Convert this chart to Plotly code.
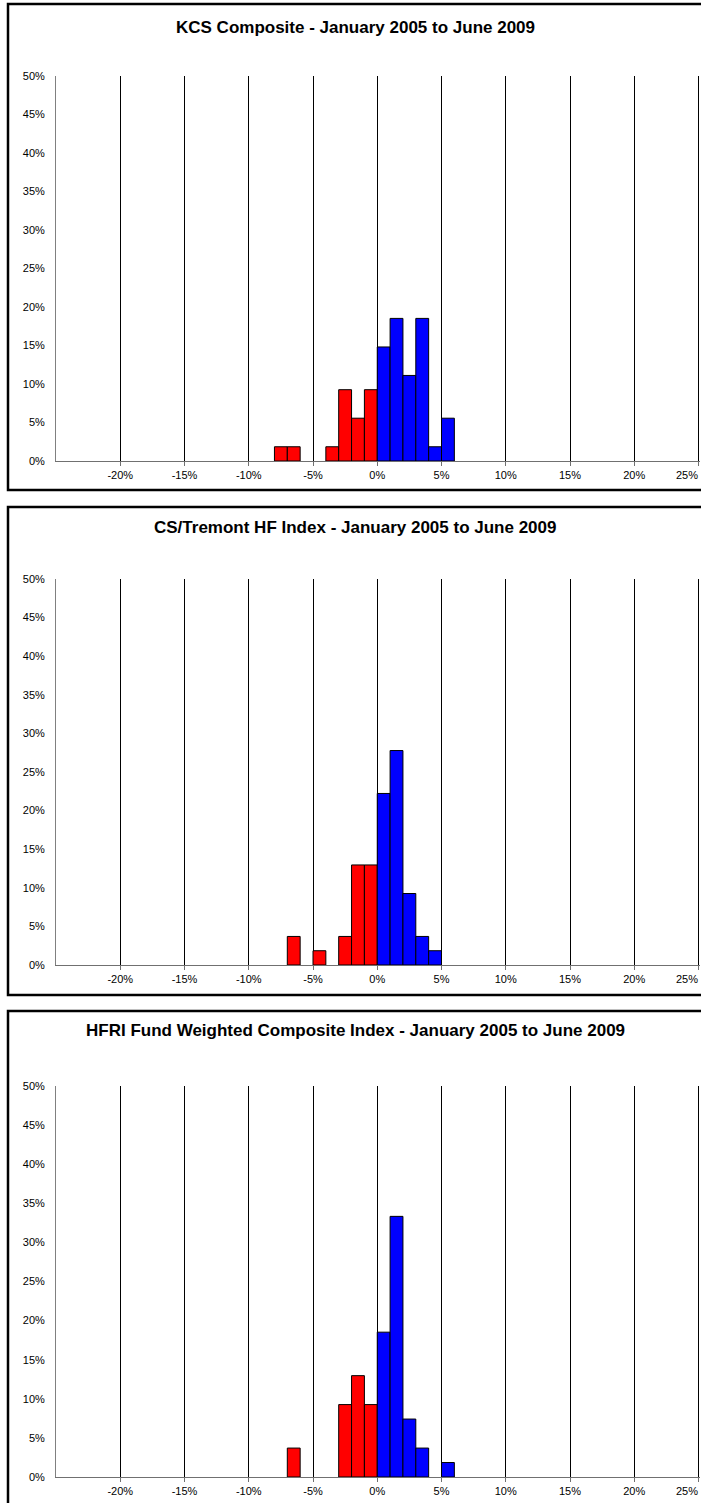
import plotly.graph_objects as go

# Histogram bins (lower edge of each 1% bin, in %)
bin_left = [-8, -7, -6, -5, -4, -3, -2, -1, 0, 1, 2, 3, 4, 5]

# Frequency (% of months) per bin
kcs_freq = [1.85, 1.85, 0, 0, 1.85, 9.26, 5.56, 9.26, 14.81, 18.52, 11.11, 18.52, 1.85, 5.56]
cs_freq = [0, 3.70, 0, 1.85, 0, 3.70, 12.96, 12.96, 22.22, 27.78, 9.26, 3.70, 1.85, 0]
hfri_freq = [0, 3.70, 0, 0, 0, 9.26, 12.96, 9.26, 18.52, 33.33, 7.41, 3.70, 0, 1.85]

titles = [
    "KCS Composite - January 2005 to June 2009",
    "CS/Tremont HF Index - January 2005 to June 2009",
    "HFRI Fund Weighted Composite Index - January 2005 to June 2009",
]
series = [kcs_freq, cs_freq, hfri_freq]

x_ticks = [-20, -15, -10, -5, 0, 5, 10, 15, 20, 25]
y_ticks = [0, 5, 10, 15, 20, 25, 30, 35, 40, 45, 50]

W, H = 701, 1503

def py(p):
    return 1 - p / H

def px(p):
    return p / W

# pixel layout of the three panels
plot_tops = [76, 579, 1086]
plot_bots = [461, 965, 1477]
title_y = [27, 528, 1030]
frames = [(4, 490), (507, 995), (1011, 1530)]

x_lo, x_hi = -25, 25.12
unit = (698.5 - 56) / 50.0
x_dom_right = 56 + (x_hi - x_lo) * unit

# last tick label sits at the right edge; it is drawn right-aligned so it stays visible
x_ticktext = [f"{v}%" for v in x_ticks[:-1]] + [""]
edge_label = f"{x_ticks[-1]}%"

fig = go.Figure()
layout = dict(
    width=W, height=H,
    margin=dict(l=0, r=0, t=0, b=0),
    paper_bgcolor="white", plot_bgcolor="white",
    showlegend=False,
    bargap=0,
    font=dict(family="Liberation Sans, Arial", size=11, color="black"),
    annotations=[], shapes=[],
)

for i, vals in enumerate(series):
    n = "" if i == 0 else str(i + 1)
    pts = [(b + 0.5, v) for b, v in zip(bin_left, vals) if v > 0]
    xs = [p[0] for p in pts]
    ys = [p[1] for p in pts]
    cols = ["#FF0000" if x < 0 else "#0000FF" for x in xs]
    fig.add_trace(go.Bar(
        x=xs, y=ys, width=[1] * len(xs),
        marker=dict(color=cols, line=dict(color="black", width=1)),
        xaxis="x" + n, yaxis="y" + n, hoverinfo="skip",
    ))
    layout["xaxis" + n] = dict(
        domain=[px(56), px(x_dom_right)], range=[x_lo, x_hi],
        tickvals=x_ticks, ticktext=x_ticktext,
        showgrid=True, gridcolor="black", gridwidth=1,
        showline=True, linecolor="#707070", linewidth=1,
        ticks="outside", ticklen=4, tickcolor="#707070",
        zeroline=False, anchor="y" + n, fixedrange=True,
        tickfont=dict(size=11), automargin=False,
    )
    layout["yaxis" + n] = dict(
        domain=[py(plot_bots[i]), py(plot_tops[i])], range=[0, 50],
        tickvals=y_ticks, ticktext=[f"{v}%" for v in y_ticks],
        showgrid=False, showline=True, linecolor="#808080", linewidth=1,
        ticks="", zeroline=False, anchor="x" + n, fixedrange=True,
        tickfont=dict(size=11), ticklabelstandoff=8, automargin=False,
    )
    layout["annotations"].append(dict(
        text="<b>" + titles[i] + "</b>", xref="paper", yref="paper",
        x=px(355), y=py(title_y[i]), xanchor="center", yanchor="middle",
        showarrow=False, font=dict(size=17, family="Liberation Sans, Arial"),
    ))
    layout["annotations"].append(dict(
        text=edge_label, xref="paper", yref="paper",
        x=px(700), y=py(plot_bots[i] + 14), xanchor="right", yanchor="middle",
        showarrow=False, font=dict(size=11, family="Liberation Sans, Arial"),
    ))
    layout["shapes"].append(dict(
        type="rect", xref="paper", yref="paper",
        x0=px(8), x1=1.05, y0=py(frames[i][1]), y1=py(frames[i][0]),
        line=dict(color="black", width=2.5), layer="above",
    ))

fig.update_layout(**layout)
fig.write_html(
    "out.html",
    config={"displayModeBar": False, "staticPlot": True},
    post_script="document.body.style.margin='0';document.body.style.overflow='hidden';",
)
